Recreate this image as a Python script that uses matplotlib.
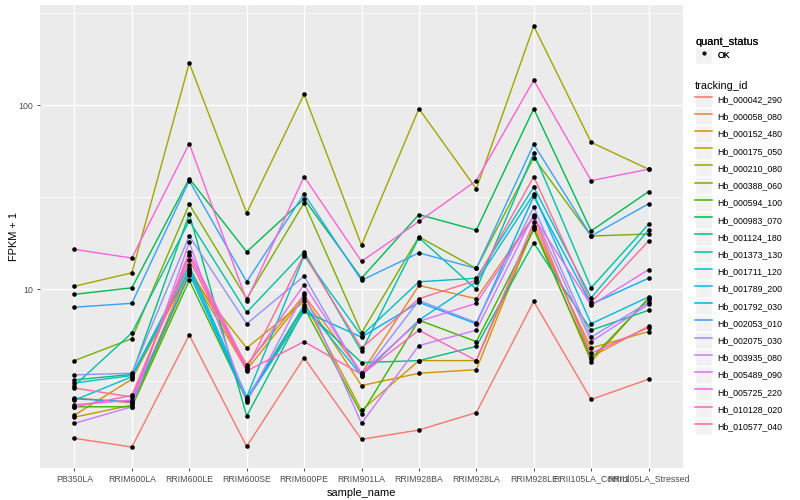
import numpy as np
import matplotlib
matplotlib.use("Agg")
import matplotlib.pyplot as plt
from matplotlib.legend_handler import HandlerLine2D
from matplotlib.lines import Line2D
from matplotlib.patches import Rectangle
from matplotlib.ticker import FixedLocator, NullFormatter

samples = ["PB350LA", "RRIM600LA", "RRIM600LE", "RRIM600SE", "RRIM600PE",
           "RRIM901LA", "RRIM928BA", "RRIM928LA", "RRIM928LE",
           "RRII105LA_Control", "RRII105LA_Stressed"]

tracking_ids = ["Hb_000042_290", "Hb_000058_080", "Hb_000152_480", "Hb_000175_050",
                "Hb_000210_080", "Hb_000388_060", "Hb_000594_100", "Hb_000983_070",
                "Hb_001124_180", "Hb_001373_130", "Hb_001711_120", "Hb_001789_200",
                "Hb_001792_030", "Hb_002053_010", "Hb_002075_030", "Hb_003935_080",
                "Hb_005489_090", "Hb_005725_220", "Hb_010128_020", "Hb_010577_040"]

# FPKM + 1, one list per gene, same order as samples
hb_000042_290 = [1.55, 1.39, 5.65, 1.40, 4.25, 1.53, 1.72, 2.14, 8.6, 2.52, 3.25]
hb_000058_080 = [2.57, 2.42, 13.0, 3.9, 9.3, 3.5, 10.5, 8.9, 25.0, 4.3, 6.3]
hb_000152_480 = [2.07, 3.25, 12.5, 3.65, 9.0, 3.0, 3.5, 3.66, 22.0, 4.05, 9.0]
hb_000175_050 = [2.02, 2.35, 12.0, 4.8, 8.6, 2.2, 4.1, 4.1, 21.5, 4.8, 5.9]
hb_000210_080 = [10.4, 12.3, 170, 26, 115, 17.4, 96, 35.2, 270, 63, 45]
hb_000388_060 = [4.1, 5.4, 29, 8.9, 29.5, 5.8, 19.3, 13, 52, 19.5, 20]
hb_000594_100 = [2.30, 2.30, 11.2, 2.5, 8.0, 2.1, 6.8, 5.2, 21.2, 4.2, 8.9]
hb_000983_070 = [9.4, 10.2, 40, 16, 31, 11.5, 25.5, 21, 96, 20.8, 34]
hb_001124_180 = [3.22, 3.45, 25.7, 2.05, 7.8, 4.0, 4.1, 4.9, 17.9, 6.0, 7.7]
hb_001373_130 = [3.0, 5.8, 23.6, 7.5, 16, 4.6, 19.1, 10, 55, 10.2, 22.6]
hb_001711_120 = [3.10, 3.4, 13.5, 2.6, 15.2, 5.6, 11, 11.5, 36, 9.0, 21]
hb_001789_200 = [2.50, 3.35, 12.8, 2.55, 8.2, 3.4, 6.8, 11.0, 33, 6.5, 9.1]
hb_001792_030 = [2.54, 2.45, 12.2, 2.5, 7.6, 5.5, 8.5, 6.5, 32, 8.3, 11.5]
hb_002053_010 = [8.0, 8.4, 39, 11, 33, 11.2, 15.8, 13, 61.5, 19.5, 29.2]
hb_002075_030 = [3.43, 3.5, 19.5, 6.5, 11.8, 3.4, 8.7, 6.6, 28, 5.5, 8.5]
hb_003935_080 = [1.87, 2.3, 18, 2.45, 9.5, 1.87, 4.95, 6.0, 25.5, 5.2, 8.3]
hb_005489_090 = [2.36, 2.5, 16, 3.8, 10.6, 3.5, 6.7, 8.4, 24.7, 8.2, 12.8]
hb_005725_220 = [16.5, 14.8, 62, 8.7, 41, 14.2, 23.4, 39, 137, 39, 45]
hb_010128_020 = [2.30, 2.65, 14.5, 3.6, 5.2, 3.45, 6.0, 4.1, 23.2, 4.5, 6.2]
hb_010577_040 = [2.91, 2.6, 15.3, 3.7, 15.5, 4.8, 8.9, 11.2, 41, 8.5, 18.3]

series = [hb_000042_290, hb_000058_080, hb_000152_480, hb_000175_050,
          hb_000210_080, hb_000388_060, hb_000594_100, hb_000983_070,
          hb_001124_180, hb_001373_130, hb_001711_120, hb_001789_200,
          hb_001792_030, hb_002053_010, hb_002075_030, hb_003935_080,
          hb_005489_090, hb_005725_220, hb_010128_020, hb_010577_040]


def hcl_to_hex(h, c=100.0, l=65.0):
    # polar LUV -> sRGB, like grDevices::hcl
    xn, yn, zn = 95.047, 100.0, 108.883
    un = 4 * xn / (xn + 15 * yn + 3 * zn)
    vn = 9 * yn / (xn + 15 * yn + 3 * zn)
    y = yn * ((l + 16) / 116) ** 3
    u = c * np.cos(np.radians(h))
    v = c * np.sin(np.radians(h))
    up = u / (13 * l) + un
    vp = v / (13 * l) + vn
    x = y * 9 * up / (4 * vp)
    z = y * (12 - 3 * up - 20 * vp) / (4 * vp)
    xyz = np.array([x, y, z]) / 100.0
    m = np.array([[3.2404542, -1.5371385, -0.4985314],
                  [-0.9692660, 1.8760108, 0.0415560],
                  [0.0556434, -0.2040259, 1.0572252]])
    rgb = m @ xyz
    rgb = np.where(rgb <= 0.0031308, 12.92 * rgb, 1.055 * np.power(np.clip(rgb, 0, None), 1 / 2.4) - 0.055)
    rgb = np.clip(rgb, 0, 1)
    return matplotlib.colors.to_hex(rgb)


def hue_pal(n):
    hues = np.linspace(15, 375, n + 1)[:-1]
    return [hcl_to_hex(h) for h in hues]


class KeyHandler(HandlerLine2D):
    def create_artists(self, legend, orig_handle, xdescent, ydescent,
                       width, height, fontsize, trans):
        box = Rectangle((-xdescent, -ydescent), width, height,
                        facecolor="#F2F2F2", edgecolor="white", lw=1, transform=trans)
        arts = super().create_artists(legend, orig_handle, xdescent, ydescent,
                                      width, height, fontsize, trans)
        return [box] + arts


def main():
    plt.rcParams["font.family"] = ["Liberation Sans", "DejaVu Sans"]
    colors = hue_pal(len(tracking_ids))
    x = np.arange(len(samples))

    fig = plt.figure(figsize=(8, 5), dpi=100)
    ax = fig.add_axes([40 / 800, 32 / 500, 643 / 800, 463 / 500])
    ax.set_facecolor("#EBEBEB")
    for s in ax.spines.values():
        s.set_visible(False)

    for vals, col in zip(series, colors):
        ax.plot(x, vals, color=col, lw=1.0, zorder=3)
    for vals in series:
        ax.plot(x, vals, "o", color="black", ms=3.3, mew=0, zorder=4)

    ax.set_yscale("log")
    ax.set_ylim(10 ** 0.029, 10 ** 2.546)
    ax.set_xlim(-0.6, len(samples) - 0.4)
    ax.yaxis.set_major_locator(FixedLocator([10, 100]))
    ax.set_yticklabels(["10", "100"])
    ax.yaxis.set_minor_locator(FixedLocator([10 ** 0.5, 10 ** 1.5, 10 ** 2.5]))
    ax.yaxis.set_minor_formatter(NullFormatter())
    ax.set_xticks(x)
    ax.set_xticklabels(samples)
    ax.grid(True, which="major", color="white", lw=1.0, zorder=0)
    ax.grid(True, which="minor", axis="y", color="white", lw=0.5, zorder=0)
    ax.set_axisbelow(True)
    ax.tick_params(which="major", length=2.2, width=0.6, color="#333333",
                   labelcolor="#4D4D4D", labelsize=6.3, pad=2.5)
    ax.tick_params(which="minor", length=0)

    ax.set_xlabel("sample_name", fontsize=7.9, labelpad=3.5)
    ax.set_ylabel("FPKM + 1", fontsize=7.9)
    ax.yaxis.set_label_coords(-(40 - 19) / 643, 0.5)

    hmap = {Line2D: KeyHandler()}
    ok = Line2D([], [], ls="none", marker="o", color="black", ms=3.0, mew=0)
    leg1 = fig.legend([ok], ["OK"], title="quant_status", loc="upper left",
                      bbox_to_anchor=(695 / 800, 1 - 37 / 500), frameon=False,
                      fontsize=6.3, title_fontsize=7.9, alignment="left",
                      handlelength=1.95, handleheight=2.65, handletextpad=0.6,
                      labelspacing=0, borderpad=0, borderaxespad=0, handler_map=hmap)
    handles = [Line2D([], [], color=c, lw=1.1) for c in colors]
    fig.legend(handles, tracking_ids, title="tracking_id", loc="upper left",
               bbox_to_anchor=(695 / 800, 1 - 81 / 500), frameon=False,
               fontsize=6.3, title_fontsize=7.9, alignment="left",
               handlelength=1.95, handleheight=2.65, handletextpad=0.6,
               labelspacing=0, borderpad=0, borderaxespad=0, handler_map=hmap)
    fig.add_artist(leg1)

    fig.savefig("out.png", dpi=100)


if __name__ == "__main__":
    main()
